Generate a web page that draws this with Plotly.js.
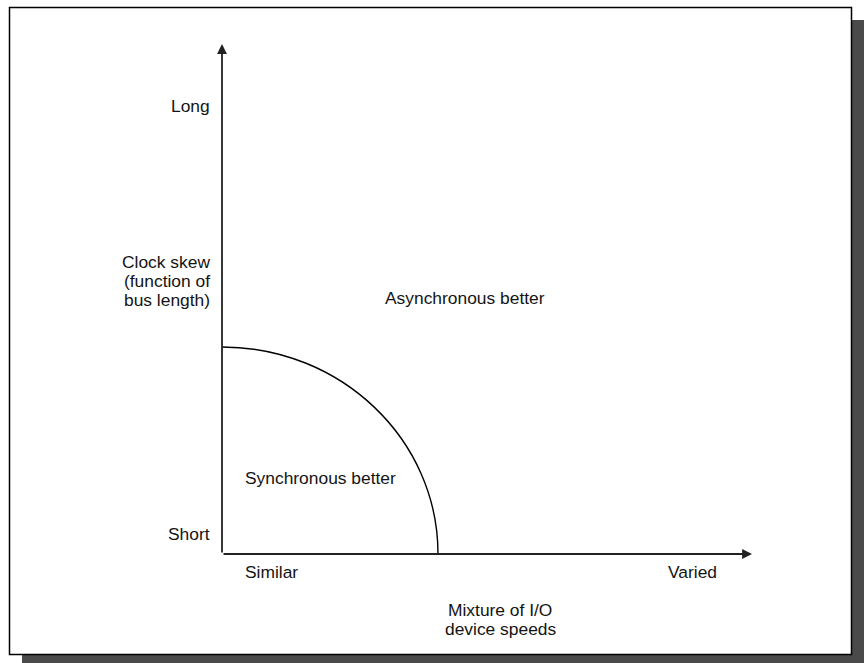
<!DOCTYPE html>
<html>
<head>
<meta charset="utf-8">
<script src="https://cdn.plot.ly/plotly-3.0.1.min.js"></script>
<style>html,body{margin:0;padding:0;background:#fff;}#chart{width:864px;height:663px;}</style>
</head>
<body>
<div id="chart"></div>
<script>
// ---- data (units: diagram units, origin at the axes corner) ----
var xAxisLabel = ['Mixture of I/O', 'device speeds'];
var yAxisLabel = ['Clock skew', '(function of', 'bus length)'];
var xCategories = ['Similar', 'Varied'];
var yCategories = ['Short', 'Long'];
var regions = ['Synchronous better', 'Asynchronous better'];
// boundary (quarter ellipse) intercepts on x and y axes
var boundaryX = [216];
var boundaryY = [207];
// axis extents
var axisLength = [530, 510];

// ---- positions (layout only) ----
var xCatPos = [[49, -18], [470, -18]];
var yCatPos = [[-10, 20], [-10, 448]];
var regionPos = [[98, 76], [243, 256]];
var xLabelPos = [[278, -56], [278, -75]];
var yLabelPos = [[-10, 292], [-10, 273], [-10, 254]];

var txtFont = {family: 'Liberation Sans, Arial, Helvetica, sans-serif', size: 17.4, color: '#141414'};
var ann = [];
function addText(t, p, xa) {
  ann.push({x: p[0], y: p[1], xref: 'x', yref: 'y', text: t, showarrow: false,
            xanchor: xa, yanchor: 'middle', font: txtFont});
}
xCategories.forEach(function (t, i) { addText(t, xCatPos[i], 'center'); });
yCategories.forEach(function (t, i) { addText(t, yCatPos[i], 'right'); });
regions.forEach(function (t, i) { addText(t, regionPos[i], 'center'); });
xAxisLabel.forEach(function (t, i) { addText(t, xLabelPos[i], 'center'); });
yAxisLabel.forEach(function (t, i) { addText(t, yLabelPos[i], 'right'); });

// axis arrows
ann.push({x: axisLength[0], y: 0, ax: 0, ay: 0, xref: 'x', yref: 'y', axref: 'x', ayref: 'y',
          text: '', showarrow: true, arrowhead: 2, arrowsize: 1.1, arrowwidth: 1.8, arrowcolor: '#222', standoff: 0, startstandoff: 0});
ann.push({x: 0, y: axisLength[1], ax: 0, ay: 0, xref: 'x', yref: 'y', axref: 'x', ayref: 'y',
          text: '', showarrow: true, arrowhead: 2, arrowsize: 1.1, arrowwidth: 1.8, arrowcolor: '#222', standoff: 0, startstandoff: 0});

var k = 0.5523;
var rx = boundaryX[0], ry = boundaryY[0];
var arcPath = 'M 0,' + ry + ' C ' + (k * rx) + ',' + ry + ' ' + rx + ',' + (k * ry) + ' ' + rx + ',0';

var shapes = [
  {type: 'rect', xref: 'paper', yref: 'paper', x0: 22 / 864, x1: 1.02, y0: -0.02, y1: 1 - 20 / 663,
   fillcolor: '#4a4a4a', line: {width: 0}, layer: 'below'},
  {type: 'rect', xref: 'paper', yref: 'paper', x0: 9.5 / 864, x1: 851.5 / 864, y0: 1 - 654.5 / 663, y1: 1 - 7.5 / 663,
   fillcolor: '#ffffff', line: {color: '#000', width: 1.5}, layer: 'below'},
  {type: 'path', xref: 'x', yref: 'y', path: arcPath, line: {color: '#000', width: 1.4}}
];

var layout = {
  width: 864, height: 663,
  margin: {l: 0, r: 0, t: 0, b: 0, pad: 0},
  paper_bgcolor: '#ffffff', plot_bgcolor: 'rgba(0,0,0,0)',
  showlegend: false,
  xaxis: {range: [-222, 642], visible: false, fixedrange: true},
  yaxis: {range: [-109, 554], visible: false, fixedrange: true},
  shapes: shapes,
  annotations: ann
};

Plotly.newPlot('chart', [{x: [], y: [], type: 'scatter', mode: 'lines', hoverinfo: 'skip'}], layout,
  {staticPlot: true, displayModeBar: false});
</script>
</body>
</html>
